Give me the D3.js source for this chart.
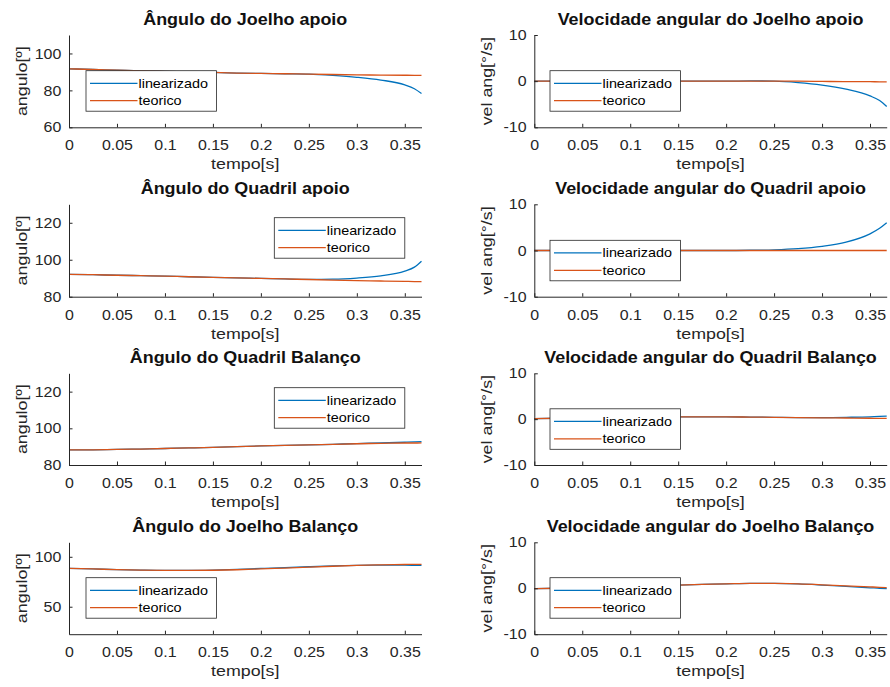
<!DOCTYPE html>
<html>
<head>
<meta charset="utf-8">
<script src="https://cdn.jsdelivr.net/npm/d3@7"></script>
<style>
  body { margin: 0; background: #fff; }
  text { font-family: "Liberation Sans", Arial, Helvetica, sans-serif; }
</style>
</head>
<body>
<script>
// time samples [s]
const tempo = [0, 0.025, 0.05, 0.075, 0.1, 0.125, 0.15, 0.175, 0.2, 0.225, 0.25, 0.275, 0.3, 0.325, 0.35, 0.36, 0.3674];
const xTicks = [0, 0.05, 0.1, 0.15, 0.2, 0.25, 0.3, 0.35];
const legendLabels = ["linearizado", "teorico"];

// Angulo do Joelho apoio
const joelhoApoioLin = [91.7, 91.3, 91.0, 90.6, 90.3, 90.0, 89.7, 89.4, 89.2, 89.0, 88.8, 88.1, 87.1, 85.6, 83.0, 80.9, 78.3];
const joelhoApoioTeo = [91.7, 91.3, 91.0, 90.6, 90.3, 90.0, 89.7, 89.4, 89.2, 89.0, 88.8, 88.6, 88.4, 88.3, 88.2, 88.15, 88.1];
// Velocidade angular do Joelho apoio
const velJoelhoApoioLin = [0, 0, 0, 0, 0, 0, 0, 0, 0, 0.05, 0, -0.3, -0.85, -1.75, -3.2, -4.2, -5.5];
const velJoelhoApoioTeo = [0, 0, 0, 0, 0, 0, 0, 0, 0, 0, 0, 0, -0.05, -0.1, -0.1, -0.15, -0.15];
// Angulo do Quadril apoio
const quadrilApoioLin = [92.1, 91.9, 91.6, 91.4, 91.1, 90.8, 90.5, 90.2, 89.9, 89.6, 89.4, 89.5, 90.1, 91.3, 93.9, 96.0, 99.2];
const quadrilApoioTeo = [92.1, 91.9, 91.6, 91.4, 91.1, 90.8, 90.5, 90.2, 89.9, 89.6, 89.3, 89.0, 88.7, 88.5, 88.3, 88.2, 88.2];
// Velocidade angular do Quadril apoio
const velQuadrilApoioLin = [0, 0, 0, 0, 0, 0, 0, 0, 0, 0.05, 0.15, 0.4, 0.9, 1.8, 3.6, 4.8, 6.0];
const velQuadrilApoioTeo = [0, 0, 0, 0, 0, 0, 0, 0, 0, 0, 0, 0, 0, 0, 0, 0, 0];
// Angulo do Quadril Balanco
const quadrilBalancoLin = [88.2, 88.3, 88.5, 88.7, 89.0, 89.3, 89.6, 90.0, 90.4, 90.7, 91.0, 91.3, 91.7, 92.0, 92.4, 92.6, 92.8];
const quadrilBalancoTeo = [88.2, 88.3, 88.5, 88.7, 89.0, 89.3, 89.6, 90.0, 90.4, 90.7, 91.0, 91.3, 91.6, 91.8, 92.0, 92.0, 92.1];
// Velocidade angular do Quadril Balanco
const velQuadrilBalancoLin = [0.1, 0.2, 0.3, 0.4, 0.45, 0.5, 0.5, 0.5, 0.5, 0.45, 0.4, 0.35, 0.35, 0.4, 0.5, 0.6, 0.65];
const velQuadrilBalancoTeo = [0.1, 0.2, 0.3, 0.4, 0.45, 0.5, 0.5, 0.5, 0.5, 0.45, 0.4, 0.35, 0.3, 0.25, 0.2, 0.15, 0.15];
// Angulo do Joelho Balanco
const joelhoBalancoLin = [88.4, 87.8, 87.2, 86.7, 86.4, 86.4, 86.7, 87.3, 88.3, 89.2, 90.0, 90.8, 91.4, 91.6, 91.6, 91.5, 91.4];
const joelhoBalancoTeo = [88.4, 87.8, 87.2, 86.7, 86.4, 86.3, 86.5, 87.0, 87.8, 88.7, 89.6, 90.5, 91.3, 91.9, 92.3, 92.4, 92.4];
// Velocidade angular do Joelho Balanco
const velJoelhoBalancoLin = [-0.1, 0.0, 0.15, 0.3, 0.45, 0.55, 0.7, 0.85, 0.95, 1.05, 1.05, 0.95, 0.7, 0.4, 0.1, 0.0, -0.1];
const velJoelhoBalancoTeo = [-0.1, 0.0, 0.15, 0.3, 0.45, 0.55, 0.7, 0.85, 0.95, 1.05, 1.05, 0.95, 0.75, 0.5, 0.3, 0.2, 0.15];

// axis limits and ticks
const angDomainA = [60, 110], angTicksA = [60, 80, 100];
const angDomainB = [80, 130], angTicksB = [80, 100, 120];
const angDomainC = [22.5, 114.5], angTicksC = [50, 100];
const velDomain = [-10, 10], velTicks = [-10, 0, 10];

const W = 890, H = 687;
const blue = "#0072BD", orange = "#D95319", ink = "#262626";

const colX = [[69, 421.5], [534.3, 886.7]];
const rowY = [[35, 127.3], [204.3, 296.7], [373.3, 465], [542.3, 634.2]];

const panels = [
  {row: 0, col: 0, title: "Ângulo do Joelho apoio", ylab: "angulo[º]", lin: joelhoApoioLin, teo: joelhoApoioTeo, dom: angDomainA, ticks: angTicksA, leg: [17, 35.7]},
  {row: 0, col: 1, title: "Velocidade angular do Joelho apoio", ylab: "vel ang[°/s]", lin: velJoelhoApoioLin, teo: velJoelhoApoioTeo, dom: velDomain, ticks: velTicks, leg: [15.7, 35.7]},
  {row: 1, col: 0, title: "Ângulo do Quadril apoio", ylab: "angulo[º]", lin: quadrilApoioLin, teo: quadrilApoioTeo, dom: angDomainB, ticks: angTicksB, leg: [205.3, 13.4]},
  {row: 1, col: 1, title: "Velocidade angular do Quadril apoio", ylab: "vel ang[°/s]", lin: velQuadrilApoioLin, teo: velQuadrilApoioTeo, dom: velDomain, ticks: velTicks, leg: [15.7, 36]},
  {row: 2, col: 0, title: "Ângulo do Quadril Balanço", ylab: "angulo[º]", lin: quadrilBalancoLin, teo: quadrilBalancoTeo, dom: angDomainB, ticks: angTicksB, leg: [205.3, 14.4]},
  {row: 2, col: 1, title: "Velocidade angular do Quadril Balanço", ylab: "vel ang[°/s]", lin: velQuadrilBalancoLin, teo: velQuadrilBalancoTeo, dom: velDomain, ticks: velTicks, leg: [15.7, 35.5]},
  {row: 3, col: 0, title: "Ângulo do Joelho Balanço", ylab: "angulo[º]", lin: joelhoBalancoLin, teo: joelhoBalancoTeo, dom: angDomainC, ticks: angTicksC, leg: [17, 35.4]},
  {row: 3, col: 1, title: "Velocidade angular do Joelho Balanço", ylab: "vel ang[°/s]", lin: velJoelhoBalancoLin, teo: velJoelhoBalancoTeo, dom: velDomain, ticks: velTicks, leg: [15.7, 35.4]}
];

const svg = d3.select("body").append("svg")
  .attr("width", W)
  .attr("height", H);

// helper: text that is a bit wider than Liberation Sans, like the original font
function label(g, x, y, str, size, opts) {
  opts = opts || {};
  const sx = opts.sx || 1.12;
  const rot = opts.rot || 0;
  return g.append("text")
    .attr("transform", `translate(${x},${y}) rotate(${rot}) scale(${sx},1)`)
    .attr("text-anchor", opts.anchor || "middle")
    .attr("font-size", size)
    .attr("font-weight", opts.bold ? "bold" : null)
    .attr("fill", opts.fill || ink)
    .text(str);
}

panels.forEach(p => {
  const [x0, x1] = colX[p.col];
  const [top, bottom] = rowY[p.row];

  const x = d3.scaleLinear().domain([0, tempo[tempo.length - 1]]).range([x0, x1]);
  const y = d3.scaleLinear().domain(p.dom).range([bottom, top]);

  const g = svg.append("g");

  const line = d3.line()
    .x((d, i) => x(tempo[i]))
    .y(d => y(d))
    .curve(d3.curveMonotoneX);

  g.append("path").datum(p.lin)
    .attr("fill", "none").attr("stroke", blue).attr("stroke-width", 1.3)
    .attr("d", line);
  g.append("path").datum(p.teo)
    .attr("fill", "none").attr("stroke", orange).attr("stroke-width", 1.3)
    .attr("d", line);

  // x axis
  const xAxis = g.append("g")
    .attr("transform", `translate(0,${bottom})`)
    .call(d3.axisBottom(x).tickValues(xTicks).tickFormat(d => String(d))
      .tickSizeInner(-3.5).tickSizeOuter(0).tickPadding(12.7));
  // y axis
  const yAxis = g.append("g")
    .attr("transform", `translate(${x0},0)`)
    .call(d3.axisLeft(y).tickValues(p.ticks).tickFormat(d => String(d))
      .tickSizeInner(-3.5).tickSizeOuter(0).tickPadding(7));

  [xAxis, yAxis].forEach(a => {
    a.attr("font-family", null).attr("font-size", 14.5);
    a.select(".domain").attr("stroke", ink).attr("stroke-width", 1);
    a.selectAll(".tick line").attr("stroke", ink).attr("stroke-width", 1);
    a.selectAll(".tick text").attr("fill", ink).attr("transform", "scale(1.1,1)");
  });

  // titles and axis labels
  label(g, (x0 + x1) / 2, top - 10.5, p.title, 16.3, {bold: true, fill: "#111", sx: 1.1});
  label(g, (x0 + x1) / 2, bottom + 42, "tempo[s]", 15.5, {sx: 1.15});
  label(g, x0 - 42, (top + bottom) / 2, p.ylab, 15.5, {sx: 1.15, rot: -90});

  // legend
  const lx = x0 + p.leg[0], ly = top + p.leg[1];
  const leg = g.append("g").attr("transform", `translate(${lx},${ly})`);
  leg.append("rect")
    .attr("width", 130.5).attr("height", 40.5)
    .attr("fill", "#fff").attr("stroke", ink).attr("stroke-width", 0.8);
  [blue, orange].forEach((c, i) => {
    const yy = 12.6 + i * 17.4;
    leg.append("line")
      .attr("x1", 4).attr("x2", 51.5).attr("y1", yy).attr("y2", yy)
      .attr("stroke", c).attr("stroke-width", 1.3);
    label(leg, 52.5, yy + 4.3, legendLabels[i], 13.3, {anchor: "start", sx: 1.08, fill: "#000"});
  });
});
</script>
</body>
</html>
